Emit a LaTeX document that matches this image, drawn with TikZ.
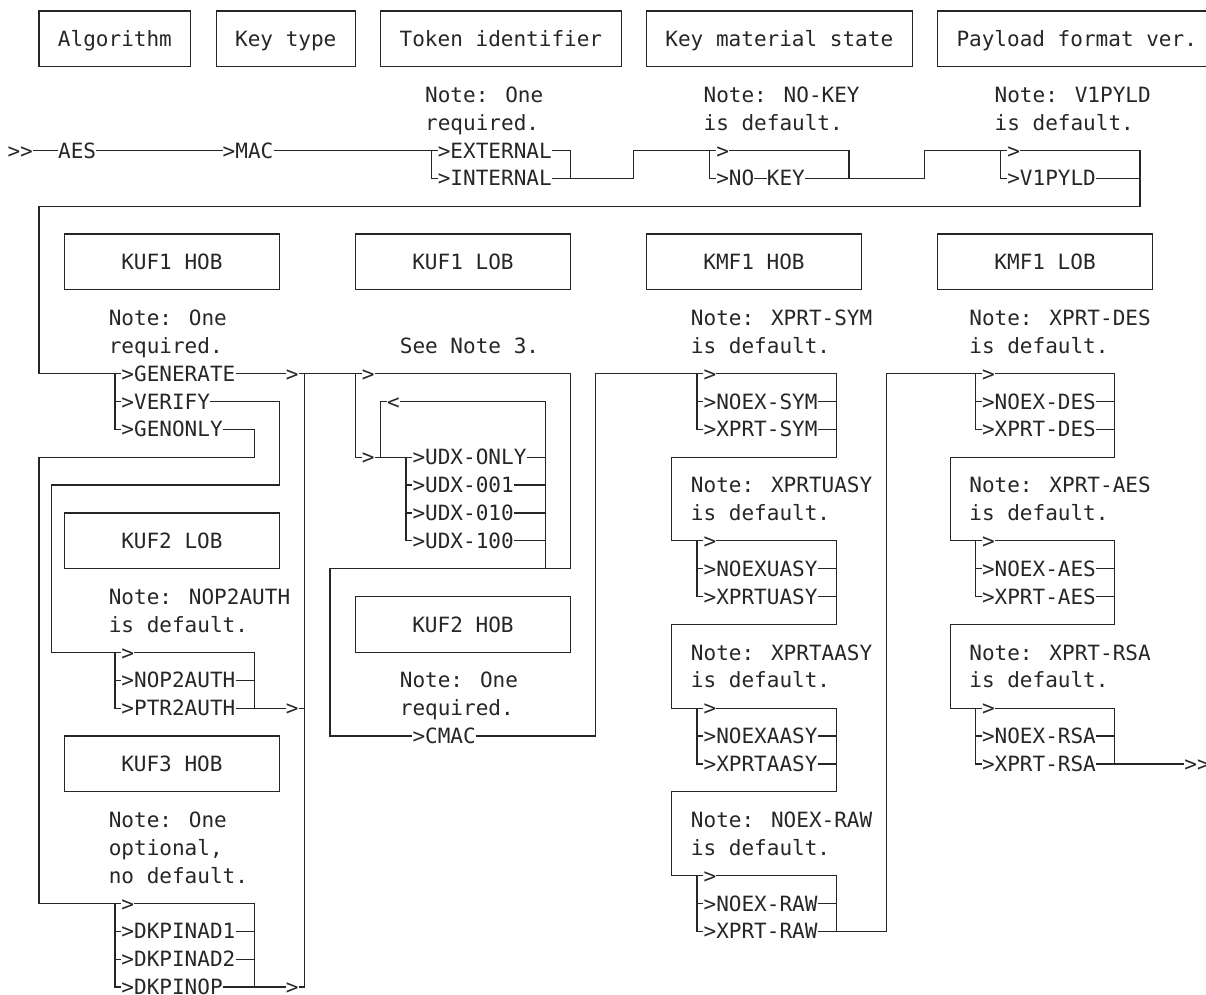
\documentclass[tikz,border=0pt]{standalone}
\usepackage{fontspec}
\newfontfamily\dmono{DejaVu Sans Mono}
\definecolor{ink}{HTML}{262626}
\newcommand\tx[4]{\node[txt] (#1) at ({#2-0.5},#3) {#4};}
\newcommand\grp[6]{%
  \node[txt] (#1d) at ({#2+0.5},#3) {>};
  \node[txt] (#1a) at ({#2+0.5},{#3+1}) {#5};
  \node[txt] (#1b) at ({#2+0.5},{#3+2}) {#6};
  \draw[line] (#2,#3) |- (#1b.west);
  \draw[line] (#2,{#3+1}) -- (#1a.west);
  \draw[line] (#1d.east) -| (#4,{#3+2});
  \draw[line] (#1a.east) -- (#4,{#3+1});
  \draw[line] (#1b.east) -- (#4,{#3+2});
}
\begin{document}
\begin{tikzpicture}[x=12.655pt,y=-27.886pt,
  line/.style={draw=ink,line width=1.2pt},
  txt/.style={font=\dmono\fontsize{21.02pt}{25pt}\selectfont, text=ink, inner sep=0pt,
    text height=15.3pt, text depth=0pt, anchor=west},
  box/.style={txt, anchor=center, draw=ink, line width=1.2pt, minimum height=55.77pt},
]
\path[use as bounding box] (0pt,0pt) rectangle (1206pt,-994pt);
\begin{scope}[shift={(13.69pt,-11pt)}]
% ---------- boxes ----------
\node[box,minimum width=151.86pt] (bAlg) at (8,1) {Algorithm};
\node[box,minimum width=139.2pt]  (bKey) at (21.5,1) {Key type};
\node[box,minimum width=240.45pt] (bTok) at (38.5,1) {Token identifier};
\node[box,minimum width=265.76pt] (bMat) at (60.5,1) {Key material state};
\node[box,minimum width=278.41pt] (bPay) at (84,1) {Payload format ver.};
\node[box,minimum width=215.14pt] (bK1H) at (12.5,9) {KUF1 HOB};
\node[box,minimum width=215.14pt] (bK1L) at (35.5,9) {KUF1 LOB};
\node[box,minimum width=215.14pt] (bM1H) at (58.5,9) {KMF1 HOB};
\node[box,minimum width=215.14pt] (bM1L) at (81.5,9) {KMF1 LOB};
\node[box,minimum width=215.14pt] (bK2L) at (12.5,19) {KUF2 LOB};
\node[box,minimum width=215.14pt] (bK2H) at (35.5,22) {KUF2 HOB};
\node[box,minimum width=215.14pt] (bK3H) at (12.5,27) {KUF3 HOB};
% ---------- notes ----------
\tx{nt1}{33}{3}{Note: One}
\tx{nt2}{33}{4}{required.}
\tx{nm1}{55}{3}{Note: NO-KEY}
\tx{nm2}{55}{4}{is default.}
\tx{np1}{78}{3}{Note: V1PYLD}
\tx{np2}{78}{4}{is default.}
\tx{nh1}{8}{11}{Note: One}
\tx{nh2}{8}{12}{required.}
\tx{nl1}{31}{12}{See Note 3.}
\tx{ns1}{54}{11}{Note: XPRT-SYM}
\tx{ns2}{54}{12}{is default.}
\tx{nd1}{76}{11}{Note: XPRT-DES}
\tx{nd2}{76}{12}{is default.}
\tx{nu1}{54}{17}{Note: XPRTUASY}
\tx{nu2}{54}{18}{is default.}
\tx{na1}{76}{17}{Note: XPRT-AES}
\tx{na2}{76}{18}{is default.}
\tx{nn1}{8}{21}{Note: NOP2AUTH}
\tx{nn2}{8}{22}{is default.}
\tx{naa1}{54}{23}{Note: XPRTAASY}
\tx{naa2}{54}{24}{is default.}
\tx{nr1}{76}{23}{Note: XPRT-RSA}
\tx{nr2}{76}{24}{is default.}
\tx{nk1}{31}{24}{Note: One}
\tx{nk2}{31}{25}{required.}
\tx{no1}{8}{29}{Note: One}
\tx{no2}{8}{30}{optional,}
\tx{no3}{8}{31}{no default.}
\tx{nw1}{54}{29}{Note: NOEX-RAW}
\tx{nw2}{54}{30}{is default.}
% ---------- keywords ----------
\tx{start}{0}{5}{>>}
\tx{aes}{4}{5}{AES}
\tx{mac}{17}{5}{>MAC}
\tx{ext}{34}{5}{>EXTERNAL}
\tx{int}{34}{6}{>INTERNAL}
\tx{nkd}{56}{5}{>}
\tx{nka}{56}{6}{>NO}
\tx{nkb}{60}{6}{KEY}
\tx{v1d}{79}{5}{>}
\tx{v1}{79}{6}{>V1PYLD}
\tx{gen}{9}{13}{>GENERATE}
\tx{ver}{9}{14}{>VERIFY}
\tx{gon}{9}{15}{>GENONLY}
\tx{a1}{22}{13}{>}
\tx{lobd}{28}{13}{>}
\tx{rep}{30}{14}{<}
\tx{lobi}{28}{16}{>}
\tx{udx0}{32}{16}{>UDX-ONLY}
\tx{udx1}{32}{17}{>UDX-001}
\tx{udx2}{32}{18}{>UDX-010}
\tx{udx3}{32}{19}{>UDX-100}
\tx{cmac}{32}{26}{>CMAC}
\tx{p2d}{9}{23}{>}
\tx{nop}{9}{24}{>NOP2AUTH}
\tx{ptr}{9}{25}{>PTR2AUTH}
\tx{a2}{22}{25}{>}
\tx{dkd}{9}{32}{>}
\tx{dk1}{9}{33}{>DKPINAD1}
\tx{dk2}{9}{34}{>DKPINAD2}
\tx{dk3}{9}{35}{>DKPINOP}
\tx{a3}{22}{35}{>}
\tx{fin}{93}{27}{>>}
% ---------- KMF groups ----------
\grp{m1}{54}{13}{65}{>NOEX-SYM}{>XPRT-SYM}
\grp{m2}{54}{19}{65}{>NOEXUASY}{>XPRTUASY}
\grp{m3}{54}{25}{65}{>NOEXAASY}{>XPRTAASY}
\grp{m4}{54}{31}{65}{>NOEX-RAW}{>XPRT-RAW}
\grp{l1}{76}{13}{87}{>NOEX-DES}{>XPRT-DES}
\grp{l2}{76}{19}{87}{>NOEX-AES}{>XPRT-AES}
\grp{l3}{76}{25}{87}{>NOEX-RSA}{>XPRT-RSA}
% ---------- connectors: first line ----------
\draw[line] (start.east) -- (aes.west);
\draw[line] (aes.east) -- (mac.west);
\draw[line] (mac.east) -- (ext.west);
\draw[line] (33,5) |- (int.west);
\draw[line] (ext.east) -| (44,6);
\draw[line] (int.east) -| (49,5) -- (nkd.west);
\draw[line] (55,5) |- (nka.west);
\draw[line] (nkd.east) -| (66,6);
\draw[line] (nka.east) -- (nkb.west);
\draw[line] (nkb.east) -| (72,5) -- (v1d.west);
\draw[line] (78,5) |- (v1.west);
\draw[line] (v1d.east) -| (89,7) -| (2,13) -- (gen.west);
\draw[line] (v1.east) -- (89,6);
% ---------- KUF1 HOB ----------
\draw[line] (8,13) |- (gon.west);
\draw[line] (8,14) -- (ver.west);
\draw[line] (gen.east) -- (a1.west);
\draw[line] (a1.east) -- (lobd.west);
\draw[line] (23,13) -- (23,35);
% ---------- KUF1 LOB ----------
\draw[line] (27,13) |- (lobi.west);
\draw[line] (lobd.east) -| (44,20) -| (25,26) -- (cmac.west);
\draw[line] (lobi.east) -- (udx0.west);
\draw[line] (29,16) |- (rep.west);
\draw[line] (rep.east) -| (42,20);
\draw[line] (31,16) |- (udx3.west);
\draw[line] (31,17) -- (udx1.west);
\draw[line] (31,18) -- (udx2.west);
\draw[line] (udx0.east) -- (42,16);
\draw[line] (udx1.east) -- (42,17);
\draw[line] (udx2.east) -- (42,18);
\draw[line] (udx3.east) -- (42,19);
\draw[line] (cmac.east) -| (46,13) -- (m1d.west);
% ---------- VERIFY / KUF2 LOB ----------
\draw[line] (ver.east) -| (21,17) -| (3,23) -- (p2d.west);
\draw[line] (8,23) |- (ptr.west);
\draw[line] (8,24) -- (nop.west);
\draw[line] (p2d.east) -| (19,25);
\draw[line] (nop.east) -- (19,24);
\draw[line] (ptr.east) -- (a2.west);
\draw[line] (a2.east) -- (23,25);
% ---------- GENONLY / KUF3 HOB ----------
\draw[line] (gon.east) -| (19,16) -| (2,32) -- (dkd.west);
\draw[line] (8,32) |- (dk3.west);
\draw[line] (8,33) -- (dk1.west);
\draw[line] (8,34) -- (dk2.west);
\draw[line] (dkd.east) -| (19,35);
\draw[line] (dk1.east) -- (19,33);
\draw[line] (dk2.east) -- (19,34);
\draw[line] (dk3.east) -- (a3.west);
\draw[line] (a3.east) -- (23,35);
% ---------- KMF1 HOB chain ----------
\draw[line] (65,15) -- (65,16) -| (52,19) -- (m2d.west);
\draw[line] (65,21) -- (65,22) -| (52,25) -- (m3d.west);
\draw[line] (65,27) -- (65,28) -| (52,31) -- (m4d.west);
\draw[line] (65,33) -| (69,13) -- (l1d.west);
% ---------- KMF1 LOB chain ----------
\draw[line] (87,15) -- (87,16) -| (74,19) -- (l2d.west);
\draw[line] (87,21) -- (87,22) -| (74,25) -- (l3d.west);
\draw[line] (87,27) -- (fin.west);
\end{scope}
\end{tikzpicture}
\end{document}
